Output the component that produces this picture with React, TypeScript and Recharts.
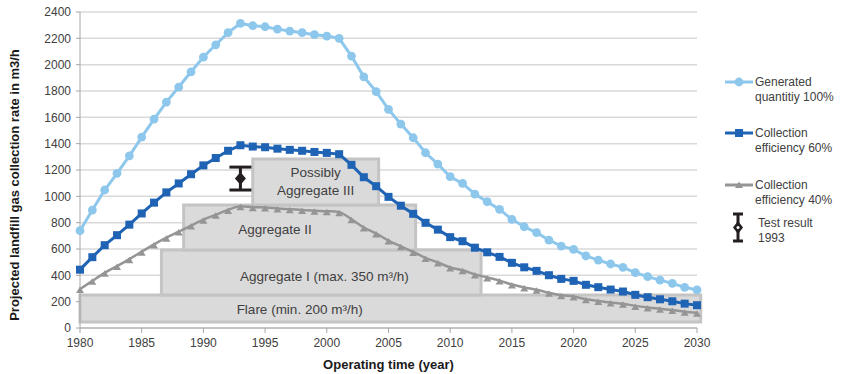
import React from "react";
import {
  ComposedChart,
  Line,
  Scatter,
  ErrorBar,
  XAxis,
  YAxis,
  CartesianGrid,
  ReferenceArea,
  ReferenceDot,
  Label,
} from "recharts";

const FONT = "'Liberation Sans', Arial, sans-serif";
const LIGHT = "#8ec7ec";
const BLUE = "#1f63b4";
const GREY = "#959595";
const TEXT = "#404040";

const years = [
  1980, 1981, 1982, 1983, 1984, 1985, 1986, 1987, 1988, 1989,
  1990, 1991, 1992, 1993, 1994, 1995, 1996, 1997, 1998, 1999,
  2000, 2001, 2002, 2003, 2004, 2005, 2006, 2007, 2008, 2009,
  2010, 2011, 2012, 2013, 2014, 2015, 2016, 2017, 2018, 2019,
  2020, 2021, 2022, 2023, 2024, 2025, 2026, 2027, 2028, 2029, 2030,
];

// generated quantity 100%
const generated = [
  739, 896, 1048, 1175, 1308, 1450, 1587, 1716, 1830, 1946,
  2058, 2151, 2243, 2313, 2296, 2288, 2270, 2255, 2243, 2228,
  2217, 2200, 2065, 1908, 1795, 1660, 1549, 1445, 1331, 1245,
  1149, 1098, 1017, 959, 901, 825, 769, 724, 668, 622,
  597, 547, 516, 486, 461, 420, 390, 364, 339, 309, 289,
];

// collection efficiency 60%
const eff60 = [
  443, 538, 629, 705, 785, 870, 952, 1030, 1098, 1168,
  1235, 1291, 1346, 1388, 1378, 1373, 1362, 1353, 1346, 1337,
  1330, 1320, 1239, 1145, 1077, 996, 929, 867, 799, 747,
  690, 659, 610, 575, 540, 495, 461, 434, 401, 373,
  358, 328, 310, 292, 277, 252, 234, 218, 203, 185, 173,
];

// collection efficiency 40%
const eff40 = [
  296, 358, 419, 470, 523, 580, 635, 686, 732, 778,
  823, 860, 897, 925, 918, 915, 908, 902, 897, 891,
  887, 880, 826, 763, 718, 664, 620, 578, 532, 498,
  460, 439, 407, 384, 360, 330, 308, 290, 267, 249,
  239, 219, 206, 194, 184, 168, 156, 146, 136, 124, 116,
];

const testResult = [{ year: 1993, value: 1135, err: 87 }];

const xTicks = [1980, 1985, 1990, 1995, 2000, 2005, 2010, 2015, 2020, 2025, 2030];
const yTicks = [0, 200, 400, 600, 800, 1000, 1200, 1400, 1600, 1800, 2000, 2200, 2400];

// capacity boxes (year range, m3/h range)
const boxes = [
  { id: "flare", x1: 1980, x2: 2030.3, y1: 45, y2: 250 },
  { id: "agg1", x1: 1986.6, x2: 2012.5, y1: 250, y2: 592 },
  { id: "agg2", x1: 1988.4, x2: 2007.2, y1: 592, y2: 934 },
  { id: "agg3", x1: 1994, x2: 2004.2, y1: 934, y2: 1283 },
];

const boxLabels = [
  { id: "flare", x: 1997.8, y: 144, lines: ["Flare (min. 200 m\u00b3/h)"] },
  { id: "agg1", x: 1999.8, y: 395, lines: ["Aggregate I (max. 350 m\u00b3/h)"] },
  { id: "agg2", x: 1995.8, y: 752, lines: ["Aggregate II"] },
  { id: "agg3", x: 1999.1, y: 1116, lines: ["Possibly", "Aggregate III"] },
];

const rows = years.map((year, i) => ({
  year,
  generated: generated[i],
  eff60: eff60[i],
  eff40: eff40[i],
}));

const circleDot = (props: any) => (
  <circle key={`c${props.index}`} cx={props.cx} cy={props.cy} r={4.4} fill={LIGHT} />
);

const squareDot = (props: any) => (
  <rect key={`s${props.index}`} x={props.cx - 4} y={props.cy - 4} width={8} height={8} fill={BLUE} />
);

const triangleDot = (props: any) => {
  const { cx, cy } = props;
  return (
    <polygon
      key={`t${props.index}`}
      points={`${cx},${cy - 2.5} ${cx + 4},${cy + 4} ${cx - 4},${cy + 4}`}
      fill={GREY}
    />
  );
};

const diamond = (props: any) => {
  const { cx, cy } = props;
  return (
    <g>
      <polygon points={`${cx},${cy - 6.5} ${cx + 5.5},${cy} ${cx},${cy + 6.5} ${cx - 5.5},${cy}`} fill="#231f20" />
    </g>
  );
};

const boxLabel = (lines: string[]) => (props: any) => {
  const vb = props.viewBox || {};
  const cx = vb.x + (vb.width || 0) / 2;
  const cy = vb.y + (vb.height || 0) / 2;
  const lh = 18;
  const top = cy - ((lines.length - 1) * lh) / 2;
  return (
    <text x={cx} y={top} textAnchor="middle" dominantBaseline="central" fontSize={13.5} fill={TEXT} fontFamily={FONT}>
      {lines.map((l, i) => (
        <tspan key={i} x={cx} dy={i === 0 ? 0 : lh}>
          {l}
        </tspan>
      ))}
    </text>
  );
};

const yTitle = () => (
  <text
    x={14}
    y={185}
    transform="rotate(-90, 14, 185)"
    textAnchor="middle"
    dominantBaseline="central"
    fontSize={13}
    fontWeight="bold"
    fill="#1a1a1a"
    fontFamily={FONT}
  >
    Projected landfill gas collection rate in m3/h
  </text>
);

function ChartLegend() {
  const t = { fontSize: 12, fill: TEXT, fontFamily: FONT } as const;
  return (
    <svg width={841} height={374} style={{ position: "absolute", left: 0, top: 0, pointerEvents: "none" }}>
      <line x1={725} x2={753} y1={82} y2={82} stroke={LIGHT} strokeWidth={3} />
      <circle cx={739} cy={82} r={4.4} fill={LIGHT} />
      <text x={755} y={82} dominantBaseline="central" {...t}>Generated</text>
      <text x={755} y={97} dominantBaseline="central" {...t}>quantitiy 100%</text>

      <line x1={725} x2={753} y1={133} y2={133} stroke={BLUE} strokeWidth={3} />
      <rect x={735} y={129} width={8} height={8} fill={BLUE} />
      <text x={755} y={133} dominantBaseline="central" {...t}>Collection</text>
      <text x={755} y={148} dominantBaseline="central" {...t}>efficiency 60%</text>

      <line x1={725} x2={753} y1={185} y2={185} stroke={GREY} strokeWidth={3} />
      <polygon points="739,181.5 743,188 735,188" fill={GREY} />
      <text x={755} y={185} dominantBaseline="central" {...t}>Collection</text>
      <text x={755} y={200} dominantBaseline="central" {...t}>efficiency 40%</text>

      <line x1={738} x2={738} y1={214} y2={241} stroke="#231f20" strokeWidth={3} />
      <line x1={733} x2={743} y1={214} y2={214} stroke="#231f20" strokeWidth={3} />
      <line x1={733} x2={743} y1={241} y2={241} stroke="#231f20" strokeWidth={3} />
      <polygon points="738,221 743,227.5 738,234 733,227.5" fill="#231f20" />
      <circle cx={738} cy={227.5} r={1.5} fill="#ffffff" />
      <text x={758} y={223} dominantBaseline="central" {...t}>Test result</text>
      <text x={758} y={238} dominantBaseline="central" {...t}>1993</text>
    </svg>
  );
}

export default function App() {
  return (
    <div style={{ position: "absolute", left: 0, top: 0, width: 841, height: 374, background: "#fff", fontFamily: FONT }}>
      <ComposedChart width={841} height={374} data={rows} margin={{ top: 12, right: 144, bottom: 0, left: 0 }}>
        <CartesianGrid vertical={false} stroke="#d9d9d9" strokeWidth={1.5} />
        <XAxis
          dataKey="year"
          type="number"
          domain={[1980, 2030]}
          ticks={xTicks}
          height={46}
          tickSize={5}
          tickMargin={5}
          tick={{ fontSize: 12, fill: TEXT, fontFamily: FONT }}
          stroke="#a6a6a6"
          interval={0}
        >
          <Label
            value="Operating time (year)"
            position="insideBottom"
            offset={5}
            style={{ fontSize: 13, fontWeight: "bold", fill: "#1a1a1a", fontFamily: FONT }}
          />
        </XAxis>
        <YAxis
          type="number"
          domain={[0, 2400]}
          ticks={yTicks}
          width={80}
          tickSize={4}
          tickMargin={5}
          tick={{ fontSize: 12, fill: TEXT, fontFamily: FONT }}
          stroke="#a6a6a6"
          interval={0}
          label={yTitle}
        />
        {boxes.map((b) => (
          <ReferenceArea
            key={b.id}
            x1={b.x1}
            x2={b.x2}
            y1={b.y1}
            y2={b.y2}
            fill="#dadada"
            fillOpacity={1}
            stroke="#c4c4c4"
            strokeWidth={3}
            ifOverflow="visible"
          />
        ))}
        {boxLabels.map((l) => (
          <ReferenceDot
            key={l.id}
            x={l.x}
            y={l.y}
            r={0}
            fill="none"
            stroke="none"
            ifOverflow="visible"
            label={boxLabel(l.lines)}
          />
        ))}
        <Line
          dataKey="generated"
          type="linear"
          stroke={LIGHT}
          strokeWidth={3}
          dot={circleDot}
          isAnimationActive={false}
        />
        <Line
          dataKey="eff60"
          type="linear"
          stroke={BLUE}
          strokeWidth={3}
          dot={squareDot}
          isAnimationActive={false}
        />
        <Line
          dataKey="eff40"
          type="monotone"
          stroke={GREY}
          strokeWidth={2.5}
          dot={triangleDot}
          isAnimationActive={false}
        />
        <Scatter data={testResult} dataKey="value" shape={diamond} isAnimationActive={false}>
          <ErrorBar dataKey="err" direction="y" width={11} stroke="#231f20" strokeWidth={3} />
        </Scatter>
      </ComposedChart>
      <ChartLegend />
    </div>
  );
}
